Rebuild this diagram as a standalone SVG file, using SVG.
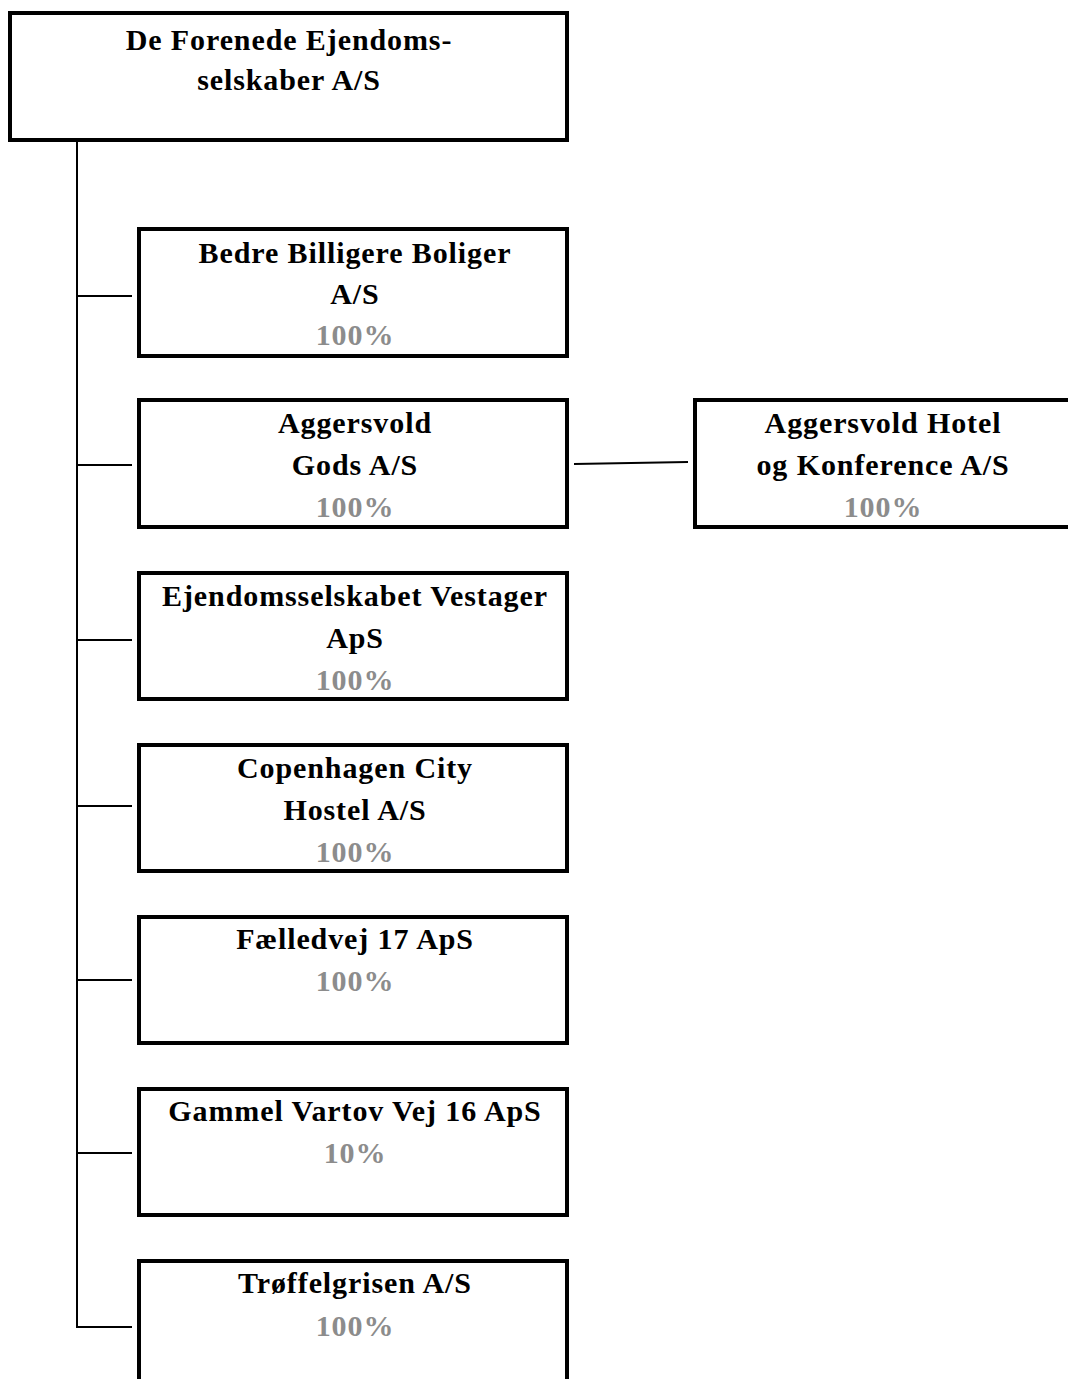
<svg xmlns="http://www.w3.org/2000/svg" width="1068" height="1379" viewBox="0 0 1068 1379">
<style>
.box{fill:#fff;stroke:#000;stroke-width:4}
.t{font-family:"Liberation Serif","Times New Roman",serif;font-weight:bold;font-size:30px;letter-spacing:0.9px;text-anchor:middle;fill:#000}
.p{fill:#8c8c8c}
.c{stroke:#000;stroke-width:2;fill:none}
</style>
<rect width="1068" height="1379" fill="#fff"/>
<g id="connectors">
<line class="c" x1="77" y1="141" x2="77" y2="1328"/>
<line class="c" x1="76" y1="296" x2="132" y2="296"/>
<line class="c" x1="76" y1="465" x2="132" y2="465"/>
<line class="c" x1="76" y1="640" x2="132" y2="640"/>
<line class="c" x1="76" y1="806" x2="132" y2="806"/>
<line class="c" x1="76" y1="980" x2="132" y2="980"/>
<line class="c" x1="76" y1="1153" x2="132" y2="1153"/>
<line class="c" x1="76" y1="1327" x2="132" y2="1327"/>
<line class="c" x1="574" y1="464" x2="688" y2="462"/>
</g>
<g id="root">
<rect class="box" x="10" y="13" width="557" height="127"/>
<text class="t" x="289" y="50">De Forenede Ejendoms-</text>
<text class="t" x="289" y="90">selskaber A/S</text>
</g>
<g id="n1">
<rect class="box" x="139" y="229" width="428" height="127"/>
<text class="t" x="355" y="263">Bedre Billigere Boliger</text>
<text class="t" x="355" y="304">A/S</text>
<text class="t p" x="355" y="345">100%</text>
</g>
<g id="n2">
<rect class="box" x="139" y="400" width="428" height="127"/>
<text class="t" x="355" y="433">Aggersvold</text>
<text class="t" x="355" y="475">Gods A/S</text>
<text class="t p" x="355" y="517">100%</text>
</g>
<g id="n2a">
<rect class="box" x="695" y="400" width="380" height="127"/>
<text class="t" x="883" y="433">Aggersvold Hotel</text>
<text class="t" x="883" y="475">og Konference A/S</text>
<text class="t p" x="883" y="517">100%</text>
</g>
<g id="n3">
<rect class="box" x="139" y="573" width="428" height="126"/>
<text class="t" x="355" y="606">Ejendomsselskabet Vestager</text>
<text class="t" x="355" y="648">ApS</text>
<text class="t p" x="355" y="690">100%</text>
</g>
<g id="n4">
<rect class="box" x="139" y="745" width="428" height="126"/>
<text class="t" x="355" y="778">Copenhagen City</text>
<text class="t" x="355" y="820">Hostel A/S</text>
<text class="t p" x="355" y="862">100%</text>
</g>
<g id="n5">
<rect class="box" x="139" y="917" width="428" height="126"/>
<text class="t" x="355" y="949">Fælledvej 17 ApS</text>
<text class="t p" x="355" y="991">100%</text>
</g>
<g id="n6">
<rect class="box" x="139" y="1089" width="428" height="126"/>
<text class="t" x="355" y="1121">Gammel Vartov Vej 16 ApS</text>
<text class="t p" x="355" y="1163">10%</text>
</g>
<g id="n7">
<rect class="box" x="139" y="1261" width="428" height="140"/>
<text class="t" x="355" y="1293">Trøffelgrisen A/S</text>
<text class="t p" x="355" y="1336">100%</text>
</g>
</svg>
